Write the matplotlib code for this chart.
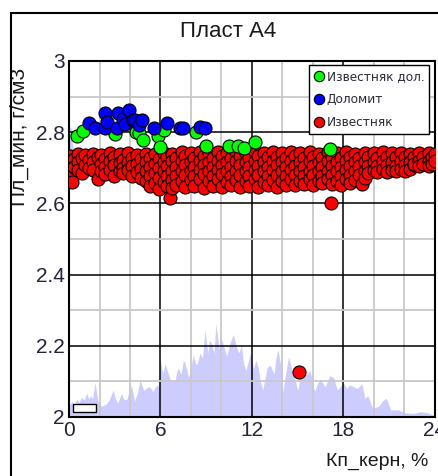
import matplotlib
matplotlib.use("Agg")
import matplotlib.pyplot as plt
from matplotlib.lines import Line2D
from matplotlib.patches import Rectangle

# ---- data -------------------------------------------------------------
title = "Пласт А4"
xlabel = "Кп_керн, %"
ylabel = "Пл_мин, г/см3"
series_names = ["Известняк дол.", "Доломит", "Известняк"]
series_colors = ["#00ff00", "#0000ff", "#ff0000"]

x_ticks = [0, 6, 12, 18, 24]
y_ticks = [2.0, 2.2, 2.4, 2.6, 2.8, 3.0]
y_tick_labels = ["2", "2.2", "2.4", "2.6", "2.8", "3"]

# porosity distribution (background profile)
hist_x = [0.0, 0.18, 0.35, 0.5, 0.65, 0.8, 1.0, 1.16, 1.3, 1.4, 1.55, 1.7,
          1.9, 2.1, 2.4, 2.6, 2.75, 2.9, 3.05, 3.2, 3.45, 3.6, 3.8, 3.95,
          4.1, 4.3, 4.5, 4.66, 4.9, 5.1, 5.3, 5.5, 5.75, 5.9, 5.97, 6.15,
          6.3, 6.4, 6.55, 6.7, 6.95, 7.05, 7.17, 7.35, 7.5, 7.6, 7.85, 8.0,
          8.15, 8.3, 8.4, 8.6, 8.75, 8.92, 9.1, 9.2, 9.35, 9.5, 9.64, 9.85,
          10.0, 10.1, 10.35, 10.5, 10.77, 11.0, 11.15, 11.3, 11.45, 11.6,
          11.9, 12.1, 12.25, 12.4, 12.55, 12.7, 13.0, 13.2, 13.45, 13.55,
          13.7, 13.9, 14.0, 14.2, 14.4, 14.7, 14.85, 15.0, 15.3, 15.55, 15.8,
          16.1, 16.3, 16.5, 16.8, 17.1, 17.35, 17.6, 18.0, 18.2, 18.4, 18.9,
          19.2, 19.4, 19.6, 19.9, 20.3, 20.55, 20.8, 21.1, 21.6, 22.0, 22.6,
          23.0, 23.5, 24.0]
hist_top = [2.030, 2.043, 2.036, 2.050, 2.040, 2.055, 2.048, 2.067, 2.050,
            2.060, 2.052, 2.097, 2.045, 2.030, 2.035, 2.045, 2.060, 2.076,
            2.050, 2.040, 2.066, 2.048, 2.050, 2.075, 2.088, 2.045, 2.070,
            2.104, 2.075, 2.082, 2.085, 2.072, 2.090, 2.085, 2.165, 2.122,
            2.150, 2.136, 2.115, 2.100, 2.100, 2.125, 2.138, 2.120, 2.160,
            2.152, 2.112, 2.140, 2.175, 2.150, 2.147, 2.180, 2.165, 2.244,
            2.180, 2.215, 2.207, 2.180, 2.262, 2.190, 2.220, 2.205, 2.170,
            2.200, 2.232, 2.195, 2.180, 2.203, 2.150, 2.131, 2.180, 2.135,
            2.160, 2.140, 2.100, 2.076, 2.140, 2.145, 2.120, 2.160, 2.190,
            2.140, 2.068, 2.120, 2.170, 2.118, 2.100, 2.075, 2.140, 2.120,
            2.130, 2.072, 2.095, 2.105, 2.085, 2.116, 2.110, 2.075, 2.097,
            2.080, 2.090, 2.080, 2.093, 2.053, 2.060, 2.025, 2.030, 2.045,
            2.053, 2.020, 2.020, 2.012, 2.010, 2.015, 2.012, 2.004]

# density distribution along the left edge
side_y = [2.64, 2.66, 2.68, 2.70, 2.72, 2.74, 2.76, 2.78, 2.80, 2.82]
side_w = [0.0, 0.20, 0.45, 0.40, 0.35, 0.30, 0.25, 0.20, 0.25, 0.0]

# Известняк дол.
green_x = [0.50, 0.94, 3.00, 4.39, 4.61, 4.83, 5.86, 6.23, 5.97, 8.31, 8.96,
           10.51, 11.10, 11.50, 12.20, 17.10]
green_y = [2.788, 2.803, 2.795, 2.800, 2.797, 2.779, 2.790, 2.805, 2.758,
           2.800, 2.762, 2.762, 2.762, 2.755, 2.773, 2.753]

# Доломит
blue_x = [1.30, 1.68, 2.36, 2.34, 2.47, 3.23, 3.17, 3.56, 3.67, 3.96, 4.22,
          4.33, 4.61, 4.80, 5.55, 6.45, 7.28, 7.50, 8.59, 8.94]
blue_y = [2.825, 2.811, 2.853, 2.811, 2.830, 2.853, 2.811, 2.836, 2.823,
          2.862, 2.834, 2.834, 2.820, 2.834, 2.811, 2.825, 2.811, 2.811,
          2.814, 2.811]

# Известняк: columns of points along porosity
red_col_x = [0.05, 0.18, 0.35, 0.62, 0.83, 1.02, 1.34, 1.55, 1.92, 2.12,
             2.38, 2.71, 2.98, 3.33, 3.52, 3.86, 4.12, 4.47, 4.73, 5.08,
             5.28, 5.63, 5.88, 6.22, 6.43, 6.6, 6.78, 7.02, 7.38, 7.62,
             7.97, 8.22, 8.58, 8.83, 9.17, 9.42, 9.78, 10.02, 10.38, 10.62,
             10.98, 11.22, 11.58, 11.82, 12.18, 12.42, 12.78, 13.02, 13.38,
             13.62, 13.98, 14.22, 14.58, 14.82, 15.08, 15.18, 15.42, 15.78,
             16.02, 16.38, 16.62, 16.98, 17.2, 17.22, 17.58, 17.82, 18.18,
             18.42, 18.78, 19.02, 19.2, 19.38, 19.62, 19.98, 20.22, 20.58,
             20.82, 21.18, 21.42, 21.78, 22.02, 22.38, 22.62, 22.98, 23.22,
             23.58, 23.82, 24.0]
red_col_y = [
    [2.733, 2.712, 2.690], [2.661], [2.724, 2.702], [2.738, 2.716, 2.695],
    [2.686, 2.728], [2.735, 2.708], [2.722, 2.700], [2.740, 2.715, 2.693],
    [2.668, 2.730], [2.737, 2.712, 2.690], [2.725, 2.702, 2.682],
    [2.741, 2.718, 2.695], [2.730, 2.707, 2.677], [2.738, 2.714, 2.690],
    [2.722, 2.700, 2.684], [2.742, 2.716, 2.694], [2.728, 2.705, 2.676],
    [2.736, 2.712, 2.688], [2.724, 2.698, 2.672],
    [2.740, 2.716, 2.690, 2.662], [2.728, 2.703, 2.676, 2.648],
    [2.738, 2.712, 2.686, 2.658], [2.725, 2.700, 2.672, 2.640],
    [2.742, 2.716, 2.690, 2.660], [2.730, 2.705, 2.678, 2.650], [2.615],
    [2.740, 2.718, 2.692, 2.665, 2.642], [2.727, 2.702, 2.676, 2.652],
    [2.744, 2.718, 2.690, 2.663], [2.732, 2.707, 2.680, 2.646],
    [2.741, 2.716, 2.692, 2.665], [2.728, 2.702, 2.676, 2.650],
    [2.745, 2.720, 2.694, 2.668], [2.733, 2.708, 2.682, 2.644],
    [2.742, 2.716, 2.690, 2.662], [2.728, 2.703, 2.676, 2.650],
    [2.745, 2.720, 2.694, 2.668], [2.732, 2.708, 2.682, 2.646],
    [2.741, 2.716, 2.690, 2.660], [2.728, 2.702, 2.676, 2.652],
    [2.744, 2.719, 2.692, 2.666], [2.733, 2.707, 2.680, 2.645],
    [2.741, 2.716, 2.690, 2.662], [2.727, 2.703, 2.677, 2.650],
    [2.745, 2.720, 2.694, 2.668], [2.732, 2.706, 2.681, 2.647],
    [2.742, 2.716, 2.690, 2.661], [2.729, 2.703, 2.676, 2.652],
    [2.744, 2.719, 2.693, 2.666], [2.731, 2.707, 2.680, 2.645],
    [2.742, 2.716, 2.690, 2.662], [2.728, 2.703, 2.677, 2.651],
    [2.745, 2.720, 2.694, 2.668], [2.732, 2.706, 2.680, 2.652], [2.127],
    [2.741, 2.716, 2.690, 2.664], [2.728, 2.702, 2.676, 2.655],
    [2.743, 2.718, 2.692, 2.668], [2.731, 2.706, 2.680, 2.652],
    [2.740, 2.715, 2.690, 2.662], [2.727, 2.702, 2.676, 2.656],
    [2.744, 2.718, 2.692, 2.668], [2.600], [2.731, 2.706, 2.680, 2.654],
    [2.741, 2.716, 2.690, 2.664], [2.728, 2.703, 2.677, 2.652],
    [2.743, 2.718, 2.693, 2.668], [2.731, 2.706, 2.681, 2.658],
    [2.740, 2.715, 2.690, 2.665], [2.728, 2.704, 2.679], [2.655],
    [2.742, 2.717, 2.692, 2.670], [2.730, 2.706, 2.684],
    [2.741, 2.716, 2.694], [2.728, 2.704, 2.688], [2.743, 2.718, 2.696],
    [2.731, 2.707, 2.689], [2.741, 2.716, 2.695], [2.729, 2.705, 2.690],
    [2.742, 2.718, 2.697], [2.731, 2.707, 2.690], [2.740, 2.716, 2.698],
    [2.729, 2.708, 2.712], [2.742, 2.719, 2.705], [2.730, 2.710],
    [2.741, 2.718, 2.706], [2.731, 2.712], [2.740, 2.720],
]

red_x = [x for x, ys in zip(red_col_x, red_col_y) for _ in ys]
red_y = [y for ys in red_col_y for y in ys]

# ---- figure -----------------------------------------------------------
W, H = 439, 476
fig = plt.figure(figsize=(W / 100, H / 100), dpi=100)
ax = fig.add_axes([69 / W, 59 / H, 366 / W, 356 / H])

tick_color = "#23233a"
main_font = "Liberation Sans"

# background distributions
ax.fill_between(hist_x, 2.0, hist_top, color="#ccccff", lw=0, zorder=0.2)
ax.fill_betweenx(side_y, 0, side_w, color="#ccccff", lw=0, zorder=0.2)

# grid
ax.set_xlim(0, 24)
ax.set_ylim(2.0, 3.0)
ax.set_xticks(x_ticks)
ax.set_xticks([v for v in range(0, 25, 2) if v % 6], minor=True)
ax.set_yticks(y_ticks)
ax.set_yticks([2.1, 2.3, 2.5, 2.7, 2.9], minor=True)
ax.set_yticklabels(y_tick_labels)
ax.set_axisbelow(True)
ax.grid(which="minor", color="#c8c8c8", lw=1.3)
ax.grid(which="major", color="black", lw=1.1)
ax.tick_params(which="both", length=0)
ax.tick_params(axis="y", pad=3, labelsize=15, labelcolor=tick_color)
ax.tick_params(axis="x", pad=3, labelsize=15, labelcolor=tick_color)
for lbl in ax.get_xticklabels() + ax.get_yticklabels():
    lbl.set_fontfamily(main_font)
for sp in ax.spines.values():
    sp.set_linewidth(1.5)
    sp.set_color("black")

# scatter series
ms = 88
ax.scatter(red_x, red_y, s=ms, c=series_colors[2], edgecolors="black",
           linewidths=0.8, zorder=3)
ax.scatter(green_x, green_y, s=ms, c=series_colors[0], edgecolors="black",
           linewidths=0.8, zorder=3)
ax.scatter(blue_x, blue_y, s=ms, c=series_colors[1], edgecolors="black",
           linewidths=0.8, zorder=3)

# small marker box in the corner
ax.add_patch(Rectangle((0.011, 0.014), 0.063, 0.022, transform=ax.transAxes,
                       facecolor="white", edgecolor="black", lw=1.0,
                       zorder=4))

# legend
handles = [Line2D([], [], ls="none", marker="o", ms=7.5, mfc=c, mec="black",
                  mew=0.8) for c in series_colors]
leg = ax.legend(handles, series_names, loc="upper right",
                bbox_to_anchor=(0.984, 0.989), frameon=True, fancybox=False,
                framealpha=1, edgecolor="black", borderpad=0.4,
                labelspacing=0.85, handletextpad=0.1, handlelength=1.0,
                borderaxespad=0, prop={"family": "DejaVu Sans", "size": 8.7})
leg.get_frame().set_linewidth(1.0)
leg.set_zorder(5)
for t in leg.get_texts():
    t.set_color("#2a2a3a")

# titles
fig.text(228 / W, 1 - 37 / H, title, ha="center", va="baseline",
         fontsize=16, family=main_font, color="#1a1a1a")
fig.text(19 / W, 1 - 137 / H, ylabel, ha="center", va="center", rotation=90,
         fontsize=15, family=main_font, color="#1a1a1a")
fig.text(428 / W, 10 / H, xlabel, ha="right", va="baseline",
         fontsize=14, family=main_font, color="#1a1a1a")

# outer frame
fig.patches.append(Rectangle((11 / W, -0.1), 1.2, 1 - 13 / H + 0.1,
                             transform=fig.transFigure, fill=False,
                             edgecolor="black", lw=1.5, zorder=10))

fig.savefig("out.png", dpi=100)
